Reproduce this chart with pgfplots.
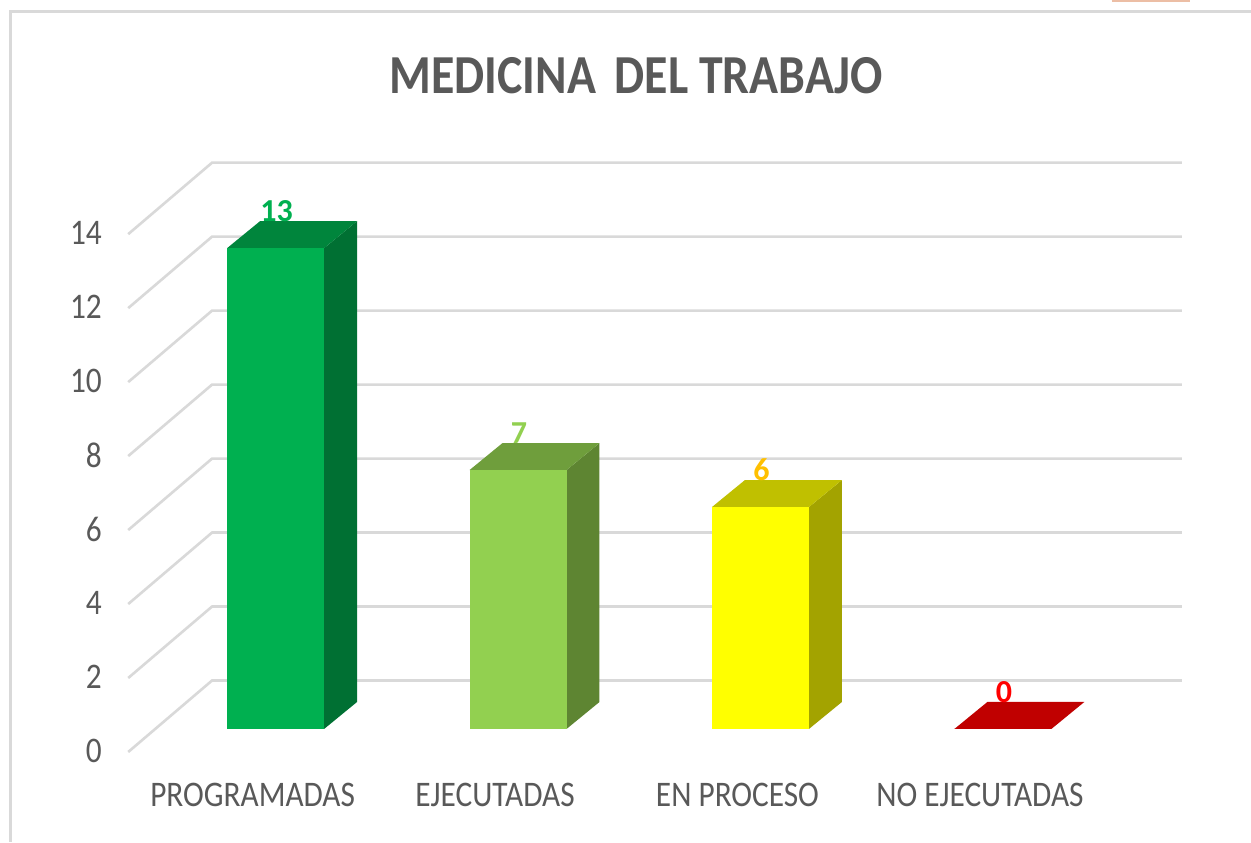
\documentclass[border=0pt]{standalone}
\usepackage{pgfplots}
\usepackage{fontspec}
\setmainfont[FakeStretch=0.87]{Carlito}
\newfontfamily\datafont{Carlito}
\pgfplotsset{compat=1.18}
\definecolor{gridc}{HTML}{D9D9D9}
\definecolor{txt}{HTML}{595959}
\definecolor{bFront1}{HTML}{00B050}
\definecolor{bSide1}{HTML}{007033}
\definecolor{bTop1}{HTML}{00853C}
\definecolor{bFront2}{HTML}{92D050}
\definecolor{bSide2}{HTML}{5E8532}
\definecolor{bTop2}{HTML}{6F9E3C}
\definecolor{bFront3}{HTML}{FFFF00}
\definecolor{bSide3}{HTML}{A3A300}
\definecolor{bTop3}{HTML}{C0C000}
\definecolor{bTop4}{HTML}{C00000}
\definecolor{labO}{HTML}{FFC000}
\definecolor{labR}{HTML}{FF0000}
\pgfplotsset{
  face/.style={draw=none,fill=#1,forget plot},
  gline/.style={gridc,line width=1.3pt,forget plot},
  fr/.style={ybar,bar width=48.5pt,bar shift=0pt,draw=none,fill=#1,forget plot,
    nodes near coords,point meta=y},
  lab/.style={every node near coord/.append style={anchor=center,yshift=18.5pt,xshift=0.5pt,font=\datafont\fontsize{16}{16}\selectfont\bfseries,text=#1,inner sep=0pt}}
}
\begin{document}
\begin{tikzpicture}
\begin{axis}[
  scale only axis,width=625.5pt,height=421pt,
  xmin=-1.13608,xmax=4.02268,ymin=-3.0541,ymax=19.7027,
  axis line style={draw=none},
  axis background/.style={fill=white},
  /pgf/number format/assume math mode=true,
  major tick length=0pt,
  xtick={0,1,2,3},
  xticklabels={PROGRAMADAS,EJECUTADAS,EN PROCESO,NO EJECUTADAS},
  xticklabel style={anchor=center,yshift=23.5pt,xshift=-11.5pt,text=txt,font=\fontsize{18}{18}\selectfont},
  ytick={-0.595,1.405,3.405,5.405,7.405,9.405,11.405,13.405},
  yticklabels={0,2,4,6,8,10,12,14},
  yticklabel style={anchor=east,xshift=51pt,inner sep=0pt,text=txt,font=\fontsize{18}{18}\selectfont},
  title={MEDICINA\hspace{0.14em} DEL TRABAJO},
  title style={at={(0.5085,0.911)},anchor=center,yshift=-6.5pt,text=txt,font=\fontsize{27.5}{27.5}\selectfont\bfseries},
]
% frame
\addplot[gridc,line width=1.6pt,forget plot] coordinates {(-1.095,-3.06) (-1.095,19.405) (4.03,19.405)};
\addplot[color={rgb,255:red,236;green,190;blue,165},line width=1pt,forget plot] coordinates {(3.449,19.69) (3.771,19.69)};
% side-wall grid lines
\addplot[gline] coordinates {(-0.608,-0.622) (-0.262,1.311) (3.738,1.311)};
\addplot[gline] coordinates {(-0.608,1.378) (-0.262,3.311) (3.738,3.311)};
\addplot[gline] coordinates {(-0.608,3.378) (-0.262,5.311) (3.738,5.311)};
\addplot[gline] coordinates {(-0.608,5.378) (-0.262,7.311) (3.738,7.311)};
\addplot[gline] coordinates {(-0.608,7.378) (-0.262,9.311) (3.738,9.311)};
\addplot[gline] coordinates {(-0.608,9.378) (-0.262,11.311) (3.738,11.311)};
\addplot[gline] coordinates {(-0.608,11.378) (-0.262,13.311) (3.738,13.311)};
\addplot[gline] coordinates {(-0.608,13.378) (-0.262,15.311) (3.738,15.311)};
% PROGRAMADAS
\addplot[face=bSide1] coordinates {(0.2,0) (0.336,0.73) (0.336,13.73) (0.2,13)};
\addplot[face=bTop1] coordinates {(-0.2,13) (-0.064,13.73) (0.336,13.73) (0.2,13)};
\addplot[fr=bFront1,lab=bFront1] coordinates {(0,13)};
% EJECUTADAS
\addplot[face=bSide2] coordinates {(1.2,0) (1.336,0.73) (1.336,7.73) (1.2,7)};
\addplot[face=bTop2] coordinates {(0.8,7) (0.936,7.73) (1.336,7.73) (1.2,7)};
\addplot[fr=bFront2,lab=bFront2] coordinates {(1,7)};
% EN PROCESO
\addplot[face=bSide3] coordinates {(2.2,0) (2.336,0.73) (2.336,6.73) (2.2,6)};
\addplot[face=bTop3] coordinates {(1.8,6) (1.936,6.73) (2.336,6.73) (2.2,6)};
\addplot[fr=bFront3,lab=labO] coordinates {(2,6)};
% NO EJECUTADAS
\addplot[face=bTop4] coordinates {(2.8,0) (2.936,0.73) (3.336,0.73) (3.2,0)};
\addplot[fr=bTop4,lab=labR] coordinates {(3,0)};
\end{axis}
\end{tikzpicture}
\end{document}
